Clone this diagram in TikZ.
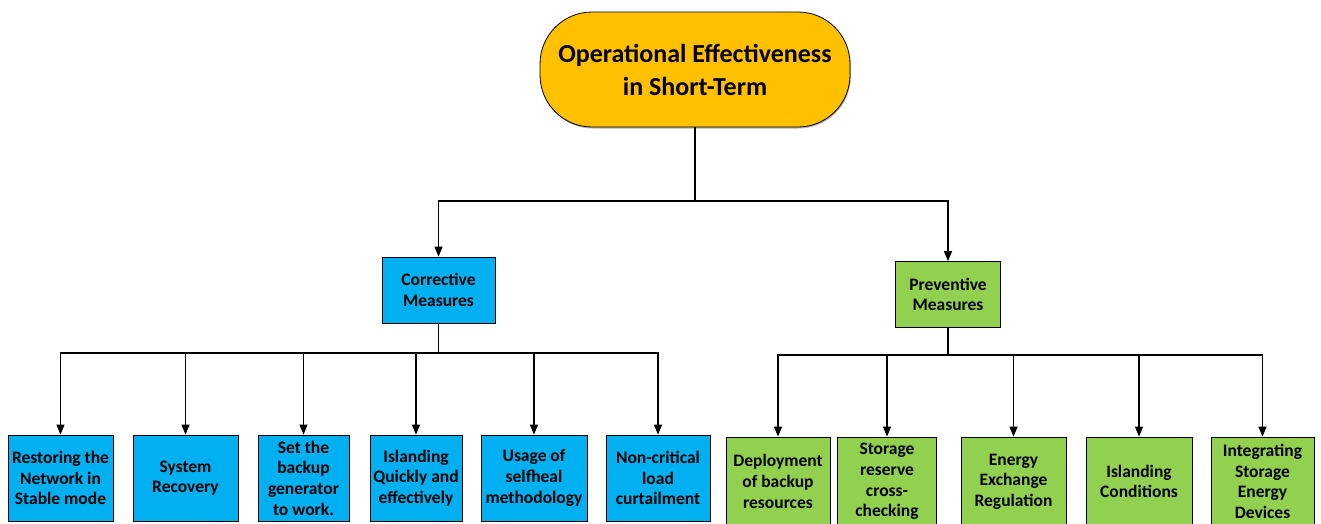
\documentclass[tikz,border=0pt]{standalone}
\usepackage{fontspec}
\setmainfont{Carlito}
\usetikzlibrary{arrows.meta,shadows}
\definecolor{topfill}{HTML}{FFC000}
\definecolor{bluefill}{HTML}{00B0F0}
\definecolor{greenfill}{HTML}{92D050}
\tikzset{
  box/.style={draw=black, line width=0.8pt, inner sep=1pt, align=center, font=\fontsize{17.5}{20.7}\selectfont\bfseries},
  topbox/.style={box, fill=topfill, rounded corners=52pt, minimum width=310pt, minimum height=115pt,
     font=\fontsize{26}{33}\selectfont\bfseries, drop shadow={shadow xshift=0.8pt, shadow yshift=-1.5pt, opacity=0.6}},
  bluebox/.style={box, fill=bluefill},
  greenbox/.style={box, fill=greenfill},
  conn/.style={line width=1.1pt, draw=black},
  arr/.style={conn, -{Triangle[length=10pt,width=8pt]}}
}
\begin{document}
\begin{tikzpicture}[x=1pt,y=-1pt]
\useasboundingbox (0,0) rectangle (1321,523);
\node[topbox] (top) at (695,69.5) {Operational Effectiveness\\in Short-Term};
\node[bluebox, minimum width=113pt, minimum height=66pt] (corr) at (438.5,290) {Corrective\\Measures};
\node[greenbox, minimum width=105pt, minimum height=66pt] (prev) at (948,294.5) {Preventive\\Measures};

\begin{scope}[every node/.append style={minimum height=86pt}]
\node[bluebox, minimum width=105pt] (b1) at (60.5,478) {Restoring the\\Network in\\Stable mode};
\node[bluebox, minimum width=105pt] (b2) at (185.5,478) {System\\Recovery};
\node[bluebox, minimum width=91pt] (b3) at (303.5,478) {Set the\\backup\\generator\\to work.};
\node[bluebox, minimum width=92pt] (b4) at (416,478) {Islanding\\Quickly and\\effectively};
\node[bluebox, minimum width=106pt] (b5) at (534,478) {Usage of\\selfheal\\methodology};
\node[bluebox, minimum width=104pt] (b6) at (658,478) {Non-critical\\load\\curtailment};
\end{scope}
\begin{scope}[every node/.append style={minimum height=89pt}]
\node[greenbox, minimum width=104pt] (g1) at (778,481.5) {Deployment\\of backup\\resources};
\node[greenbox, minimum width=99pt] (g2) at (887,481.5) {Storage\\reserve\\cross-\\checking};
\node[greenbox, minimum width=105pt] (g3) at (1013.5,481.5) {Energy\\Exchange\\Regulation};
\node[greenbox, minimum width=106pt] (g4) at (1139,481.5) {Islanding\\Conditions};
\node[greenbox, minimum width=103pt] (g5) at (1262.5,481.5) {Integrating\\Storage\\Energy\\Devices};
\end{scope}

\coordinate (j1) at (695,201);
\coordinate (j2) at (438.5,353);
\coordinate (j3) at (948,355);
\draw[conn] (top.south) -- (j1);
\draw[arr] (j1) -| (corr.north);
\draw[arr] (j1) -| (prev.north);
\draw[conn] (corr.south) -- (j2);
\foreach \n in {b1,b2,b3,b4,b5,b6} {\draw[arr] (j2) -| (\n.north);}
\draw[conn] (prev.south) -- (j3);
\foreach \n in {g1,g2,g3,g4,g5} {\draw[arr] (j3) -| (\n.north);}
\end{tikzpicture}
\end{document}
